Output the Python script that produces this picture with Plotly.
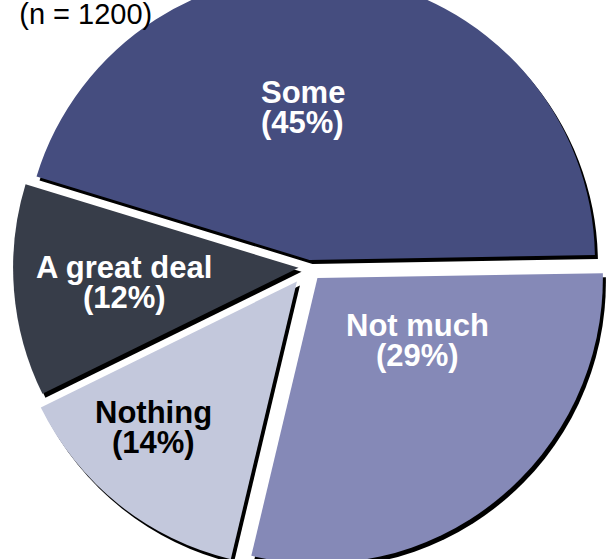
import math
import plotly.graph_objects as go

labels = ["Some", "Not much", "Nothing", "A great deal"]
values = [45, 29, 14, 12]
colors = ["#454D7F", "#8589B7", "#C3C8DC", "#373D49"]
text_colors = ["white", "white", "black", "white"]
pulls = [0.025, 0.05, 0.065, 0.035]

# where each label sits: fraction of the radius, and angle (deg, counterclockwise from 3 o'clock)
label_r = [0.56, 0.46, 0.78, 0.647]
label_ang = [92, -34, -134, -175.3]

W, H = 620, 612  # wider than the window: the right edge is cropped in the original
shift = 37  # top of the chart is cropped in the original
dx, dy = 3, 4  # drop shadow offset, px
FONT = "Liberation Sans, Arial"

fig = go.Figure()

# black drop shadow behind the slices
fig.add_trace(go.Pie(
    labels=labels, values=values, sort=False, direction="clockwise", rotation=-73,
    pull=pulls, marker=dict(colors=["black"] * len(values)),
    textinfo="none", hoverinfo="skip", showlegend=False,
    domain=dict(x=[dx / W, 1], y=[0, 1 - dy / H]),
))

fig.add_trace(go.Pie(
    labels=labels, values=values, sort=False, direction="clockwise", rotation=-73,
    pull=pulls, marker=dict(colors=colors),
    textinfo="none", showlegend=False,
    domain=dict(x=[0, 1 - dx / W], y=[dy / H, 1]),
))

# pie geometry as plotly lays it out
box_w, box_h = W - dx, H - dy
r = min(box_w, box_h) / (2 + 2 * max(pulls))
cx, cy = box_w / 2, box_h / 2  # px from top-left of the figure

total = sum(values)
for lab, v, tc, fr, ang in zip(labels, values, text_colors, label_r, label_ang):
    x = (cx + fr * r * math.cos(math.radians(ang))) / W
    y = 1 - (cy - fr * r * math.sin(math.radians(ang))) / H
    for txt, ys in ((lab, 15), ("(%d%%)" % round(100 * v / total), -15)):
        fig.add_annotation(x=x, y=y, xref="paper", yref="paper", yshift=ys,
                           text="<b>%s</b>" % txt, showarrow=False,
                           xanchor="center", yanchor="middle",
                           font=dict(family=FONT, size=31, color=tc))

fig.update_layout(
    width=W, height=H,
    margin=dict(l=0, r=0, t=0, b=0),
    paper_bgcolor="white",
    title=dict(text="(n = 1200)", x=0.031, xanchor="left", y=1 - (shift + 14) / H, yanchor="middle",
               font=dict(family=FONT, size=29, color="black")),
)

post = (
    "document.body.style.margin='0';"
    "document.body.style.overflow='hidden';"
    "document.getElementById('{plot_id}').style.marginTop='-%dpx';" % shift
)
fig.write_html("out.html", post_script=post)
